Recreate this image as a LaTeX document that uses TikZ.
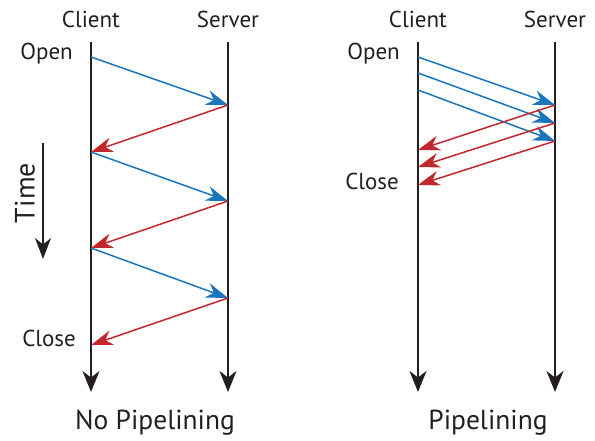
\documentclass[tikz,border=0pt]{standalone}
\usepackage{fontspec}
\setmainfont{PT Sans}
\usetikzlibrary{arrows.meta}
\definecolor{req}{HTML}{1B75BC}
\definecolor{resp}{HTML}{C1272D}
\definecolor{ink}{HTML}{231F20}
\begin{document}
\begin{tikzpicture}[x=1pt,y=-1pt,
  lifeline/.style={draw=ink,line width=2.2pt,-{Stealth[length=21pt,width=17pt,inset=6.5pt]}},
  reqmsg/.style={draw=req,line width=1.5pt,-{Stealth[length=22pt,width=15pt,inset=7pt]}},
  respmsg/.style={draw=resp,line width=1.5pt,-{Stealth[length=22pt,width=15pt,inset=7pt]}},
  lbl/.style={text=ink,font=\fontsize{23}{26}\selectfont,inner sep=0pt},
  title/.style={text=ink,font=\fontsize{27.5}{31}\selectfont,inner sep=0pt}]
\useasboundingbox (0,0) rectangle (595,441);

% ---- No pipelining ----
\node[lbl] (c1) at (91,19) {Client};
\node[lbl] (s1) at (228,19) {Server};
\coordinate (c1top) at (91,42);
\coordinate (c1bot) at (91,392);
\coordinate (s1top) at (228,42);
\coordinate (s1bot) at (228,392);
\draw[lifeline] (c1top) -- (c1bot);
\draw[lifeline] (s1top) -- (s1bot);
\node[lbl,anchor=east] (open1) at (73,54) {Open};
\node[lbl,anchor=east] (close1) at (76,338) {Close};
\node[title] (t1) at (155,423) {No Pipelining};

\coordinate (a0) at (91,57);
\coordinate (b1) at (228,105);
\coordinate (a1) at (91,152);
\coordinate (b2) at (228,201);
\coordinate (a2) at (91,248);
\coordinate (b3) at (228,298);
\coordinate (a3) at (91,345);
\draw[reqmsg] (a0) -- (b1);
\draw[respmsg] (b1) -- (a1);
\draw[reqmsg] (a1) -- (b2);
\draw[respmsg] (b2) -- (a2);
\draw[reqmsg] (a2) -- (b3);
\draw[respmsg] (b3) -- (a3);

% time axis
\coordinate (tt) at (43,143);
\coordinate (tb) at (43,259);
\draw[draw=ink,line width=2.2pt,-{Stealth[length=21pt,width=16pt,inset=6.5pt]}] (tt) -- (tb);
\node[lbl,rotate=90,font=\fontsize{28}{32}\selectfont] (time) at (25,193) {Time};

% ---- Pipelining ----
\node[lbl] (c2) at (418,19) {Client};
\node[lbl] (s2) at (555,19) {Server};
\coordinate (c2top) at (418,42);
\coordinate (c2bot) at (418,392);
\coordinate (s2top) at (555,42);
\coordinate (s2bot) at (555,392);
\draw[lifeline] (c2top) -- (c2bot);
\draw[lifeline] (s2top) -- (s2bot);
\node[lbl,anchor=east] (open2) at (400,54) {Open};
\node[lbl,anchor=east] (close2) at (399,181) {Close};
\node[title] (t2) at (488,423) {Pipelining};

\coordinate (p1) at (418,57);
\coordinate (p2) at (418,73);
\coordinate (p3) at (418,90);
\coordinate (q1) at (555,105);
\coordinate (q2) at (555,123);
\coordinate (q3) at (555,141);
\coordinate (r1) at (418,150);
\coordinate (r2) at (418,167);
\coordinate (r3) at (418,185);
\draw[reqmsg] (p1) -- (q1);
\draw[reqmsg] (p2) -- (q2);
\draw[reqmsg] (p3) -- (q3);
\draw[respmsg] (q1) -- (r1);
\draw[respmsg] (q2) -- (r2);
\draw[respmsg] (q3) -- (r3);
\end{tikzpicture}
\end{document}
